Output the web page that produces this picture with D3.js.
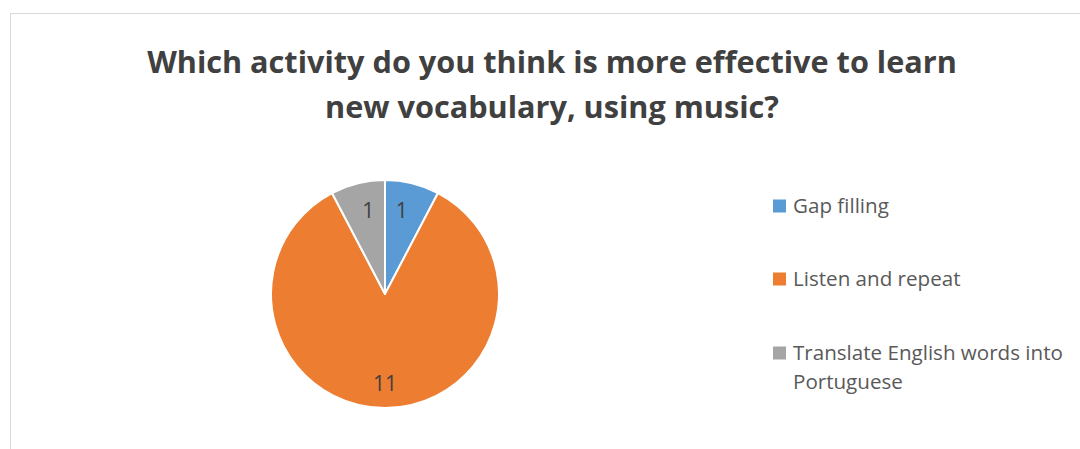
<!DOCTYPE html>
<html>
<head>
<meta charset="utf-8">
<script src="https://cdn.jsdelivr.net/npm/d3@7"></script>
<style>
  html, body { margin: 0; padding: 0; background: #fff; }
  svg { display: block; }
</style>
</head>
<body>
<svg id="chart" width="1080" height="449"></svg>
<script>
// Survey answers
const categories = ["Gap filling", "Listen and repeat", "Translate English words into Portuguese"];
const legendLines = [["Gap filling"], ["Listen and repeat"], ["Translate English words into", "Portuguese"]];
const counts = [1, 11, 1];
const colors = ["#5B9BD5", "#ED7D31", "#A5A5A5"];
const titleLines = ["Which activity do you think is more effective to learn", "new vocabulary, using music?"];

const svg = d3.select("#chart");
const W = 1080, H = 449;
const FONT = "'Open Sans', Lato, sans-serif";

svg.append("rect").attr("width", W).attr("height", H).attr("fill", "#fff");

// chart area frame
svg.append("rect")
  .attr("x", 10.5).attr("y", 13.5)
  .attr("width", W + 20).attr("height", H + 20)
  .attr("fill", "none").attr("stroke", "#d9d9d9").attr("stroke-width", 1);

// pick a font size so that a reference line spans the given width
function fitSize(text, weight, width, base) {
  const t = svg.append("text").attr("font-family", FONT).attr("font-weight", weight)
    .attr("font-size", base).text(text);
  const w = t.node().getComputedTextLength();
  t.remove();
  return base * width / w;
}

const titleSize = fitSize(titleLines[0], "bold", 810, 30);
const legendSize = fitSize(legendLines[2][0], "normal", 270, 19);

// title
svg.append("text")
  .attr("x", 552).attr("y", 73)
  .attr("text-anchor", "middle")
  .attr("font-family", FONT).attr("font-weight", "bold")
  .attr("font-size", titleSize).attr("fill", "#404040")
  .selectAll("tspan").data(titleLines).join("tspan")
  .attr("x", 552).attr("dy", (d, i) => i === 0 ? 0 : 45)
  .text(d => d);

// pie
const cx = 385, cy = 294, R = 114;
const pie = d3.pie().sort(null).value(d => d)(counts);
const arc = d3.arc().innerRadius(0).outerRadius(R);
const g = svg.append("g").attr("transform", `translate(${cx},${cy})`);

g.selectAll("path").data(pie).join("path")
  .attr("d", arc)
  .attr("fill", (d, i) => colors[i])
  .attr("stroke", "#fff").attr("stroke-width", 2).attr("stroke-linejoin", "round");

// data labels near the inside end of each slice
g.selectAll("text.lbl").data(pie).join("text")
  .attr("class", "lbl")
  .attr("transform", d => {
    const span = d.endAngle - d.startAngle;
    let a = (d.startAngle + d.endAngle) / 2;
    if (a > Math.PI) a -= 2 * Math.PI;
    // narrow slices: keep the label close to the shared edge at 12 o'clock
    if (span < 1) a *= 0.82;
    const r = span < 1 ? 85 : 89;
    return `translate(${Math.sin(a) * r},${-Math.cos(a) * r})`;
  })
  .attr("text-anchor", "middle").attr("dy", "0.36em")
  .attr("font-family", FONT).attr("font-size", 21).attr("fill", "#404040")
  .text(d => d.data);

// legend
const legendY = [206, 279, 353];
const lg = svg.append("g");
legendLines.forEach((lines, i) => {
  lg.append("rect")
    .attr("x", 773).attr("y", legendY[i] - 6.5)
    .attr("width", 13).attr("height", 13)
    .attr("fill", colors[i]);
  lg.append("text")
    .attr("x", 793).attr("y", legendY[i] + 7)
    .attr("font-family", FONT).attr("font-size", legendSize).attr("fill", "#595959")
    .selectAll("tspan").data(lines).join("tspan")
    .attr("x", 793).attr("dy", (d, j) => j === 0 ? 0 : 29)
    .text(d => d);
});
</script>
</body>
</html>
